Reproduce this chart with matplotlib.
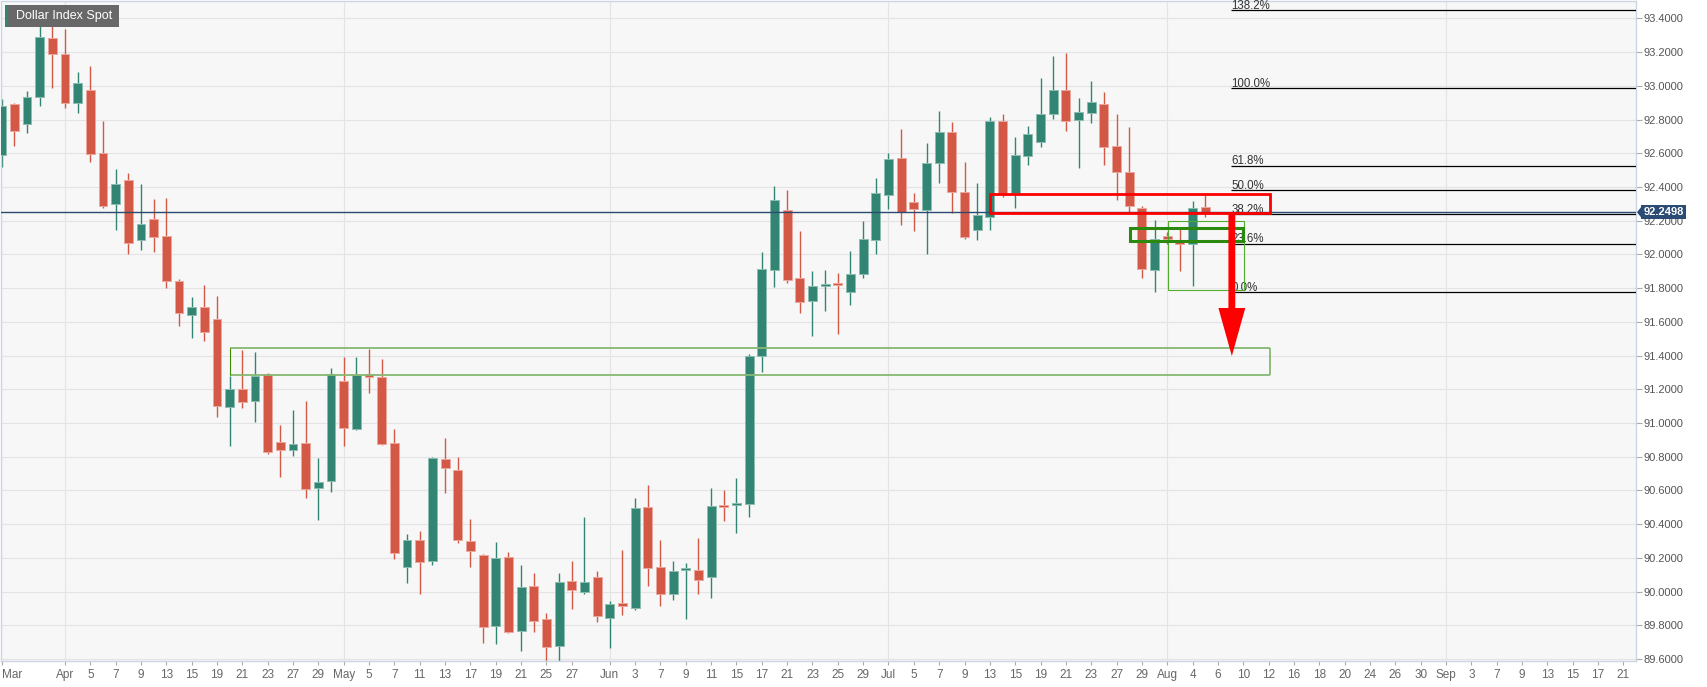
import numpy as np
import pandas as pd
import matplotlib
matplotlib.use("Agg")
import matplotlib.pyplot as plt
from matplotlib.patches import Rectangle, Polygon
from matplotlib.transforms import blended_transform_factory

plt.rcParams['font.family'] = ['Liberation Sans', 'DejaVu Sans']

# ---------------- data ----------------
start_date, end_date = "2021-03-25", "2021-09-21"

opens = [92.59, 92.89, 92.775, 92.935, 93.285, 93.188, 92.90, 92.975, 92.599, 92.297,
         92.441, 92.085, 92.212, 92.109, 91.842, 91.638, 91.69, 91.618, 91.095, 91.201,
         91.128, 91.29, 90.889, 90.837, 90.879, 90.612, 90.654, 91.249, 90.966, 91.29,
         91.27, 90.879, 90.147, 90.306, 90.183, 90.784, 90.72, 90.302, 90.215, 89.798,
         90.203, 89.764, 90.031, 89.839, 89.677, 90.063, 89.999, 90.086, 89.843, 89.932,
         89.904, 90.502, 90.146, 89.986, 90.125, 90.13, 90.088, 90.505, 90.512, 90.522,
         91.399, 91.905, 92.265, 91.858, 91.723, 91.81, 91.822, 91.778, 91.885, 92.085,
         92.351, 92.571, 92.31, 92.261, 92.54, 92.726, 92.37, 92.146, 92.223, 92.79,
         92.365, 92.583, 92.664, 92.834, 92.975, 92.798, 92.84, 92.893, 92.642, 92.488,
         92.277, 91.905, 92.111, 92.07, 92.059, 92.283]
highs = [92.92, 92.90, 92.969, 93.356, 93.44, 93.335, 93.081, 93.115, 92.791, 92.504,
         92.48, 92.415, 92.33, 92.336, 91.852, 91.745, 91.816, 91.751, 91.28, 91.433,
         91.419, 91.295, 90.986, 91.075, 91.128, 90.79, 91.324, 91.389, 91.393, 91.439,
         91.377, 90.964, 90.339, 90.359, 90.80, 90.909, 90.80, 90.428, 90.22, 90.292,
         90.233, 90.156, 90.108, 89.87, 90.108, 90.181, 90.44, 90.122, 89.944, 90.246,
         90.553, 90.632, 90.306, 90.181, 90.168, 90.316, 90.612, 90.60, 90.671, 91.41,
         92.012, 92.405, 92.38, 92.138, 91.899, 91.905, 91.892, 92.018, 92.198, 92.451,
         92.604, 92.743, 92.362, 92.658, 92.85, 92.788, 92.546, 92.421, 92.812, 92.83,
         92.698, 92.761, 93.044, 93.176, 93.192, 92.925, 93.028, 92.963, 92.832, 92.753,
         92.287, 92.204, 92.13, 92.157, 92.316, 92.352]
lows = [92.52, 92.645, 92.72, 92.882, 92.985, 92.87, 92.836, 92.546, 92.273, 92.144,
        92.0, 92.026, 92.012, 91.798, 91.577, 91.502, 91.484, 91.033, 90.861, 91.087,
        91.004, 90.814, 90.681, 90.806, 90.553, 90.422, 90.592, 90.865, 90.96, 91.176,
        90.87, 90.191, 90.049, 89.983, 90.155, 90.586, 90.286, 90.147, 89.693, 89.687,
        89.755, 89.649, 89.76, 89.58, 89.584, 89.894, 89.983, 89.817, 89.663, 89.859,
        89.89, 90.031, 89.917, 89.95, 89.835, 89.983, 89.96, 90.418, 90.345, 90.44,
        91.304, 91.808, 91.83, 91.65, 91.516, 91.664, 91.526, 91.70, 91.858, 92.0,
        92.267, 92.174, 92.136, 92.0, 92.421, 92.243, 92.089, 92.085, 92.144, 92.342,
        92.273, 92.533, 92.638, 92.802, 92.731, 92.51, 92.782, 92.533, 92.322, 92.253,
        91.858, 91.779, 92.06, 91.90, 91.814, 92.219]
closes = [92.88, 92.73, 92.933, 93.291, 93.188, 92.896, 93.014, 92.593, 92.289, 92.415,
          92.065, 92.18, 92.105, 91.842, 91.654, 91.686, 91.539, 91.098, 91.201, 91.124,
          91.28, 90.83, 90.837, 90.873, 90.608, 90.652, 91.29, 90.972, 91.286, 91.27,
          90.877, 90.231, 90.306, 90.175, 90.79, 90.731, 90.306, 90.24, 89.792, 90.199,
          89.76, 90.027, 89.827, 89.673, 90.057, 90.007, 90.057, 89.857, 89.928, 89.912,
          90.496, 90.138, 89.988, 90.122, 90.132, 90.066, 90.507, 90.50, 90.522, 91.399,
          91.913, 92.324, 91.85, 91.719, 91.81, 91.816, 91.816, 91.885, 92.091, 92.362,
          92.563, 92.251, 92.268, 92.54, 92.728, 92.372, 92.103, 92.233, 92.789, 92.358,
          92.589, 92.712, 92.83, 92.975, 92.789, 92.842, 92.902, 92.635, 92.49, 92.287,
          91.915, 92.089, 92.089, 92.063, 92.277, 92.2498]
last_price = 92.2498

tick_dates = ["2021-03-25", "2021-04-01", "2021-04-05", "2021-04-07", "2021-04-09", "2021-04-13",
              "2021-04-15", "2021-04-19", "2021-04-21", "2021-04-23", "2021-04-27", "2021-04-29",
              "2021-05-03", "2021-05-05", "2021-05-07", "2021-05-11", "2021-05-13", "2021-05-17",
              "2021-05-19", "2021-05-21", "2021-05-25", "2021-05-27", "2021-06-01", "2021-06-03",
              "2021-06-07", "2021-06-09", "2021-06-11", "2021-06-15", "2021-06-17", "2021-06-21",
              "2021-06-23", "2021-06-25", "2021-06-29", "2021-07-01", "2021-07-05", "2021-07-07",
              "2021-07-09", "2021-07-13", "2021-07-15", "2021-07-19", "2021-07-21", "2021-07-23",
              "2021-07-27", "2021-07-29", "2021-08-02", "2021-08-04", "2021-08-06", "2021-08-10",
              "2021-08-12", "2021-08-16", "2021-08-18", "2021-08-20", "2021-08-24", "2021-08-26",
              "2021-08-30", "2021-09-01", "2021-09-03", "2021-09-07", "2021-09-09", "2021-09-13",
              "2021-09-15", "2021-09-17", "2021-09-21"]
tick_labels = ["Mar", "Apr", "5", "7", "9", "13", "15", "19", "21", "23", "27", "29",
               "May", "5", "7", "11", "13", "17", "19", "21", "25", "27", "Jun", "3",
               "7", "9", "11", "15", "17", "21", "23", "25", "29", "Jul", "5", "7",
               "9", "13", "15", "19", "21", "23", "27", "29", "Aug", "4", "6", "10",
               "12", "16", "18", "20", "24", "26", "30", "Sep", "3", "7", "9", "13",
               "15", "17", "21"]
month_starts = ["2021-04-01", "2021-05-03", "2021-06-01", "2021-07-01", "2021-08-02", "2021-09-01"]
y_ticks = [89.6, 89.8, 90.0, 90.2, 90.4, 90.6, 90.8, 91.0, 91.2, 91.4,
           91.6, 91.8, 92.0, 92.2, 92.4, 92.6, 92.8, 93.0, 93.2, 93.4]

fib_low, fib_high = 91.775, 92.985
fib_ratios = [0.0, 0.236, 0.382, 0.5, 0.618, 1.0, 1.382]
fib_labels = ["0.0%", "23.6%", "38.2%", "50.0%", "61.8%", "100.0%", "138.2%"]
fib_start = "2021-08-09"

support_zone = ("2021-04-20", "2021-08-12", 91.284, 91.446)
red_box = ("2021-07-13", "2021-08-12", 92.247, 92.358)
green_box = ("2021-07-28", "2021-08-10", 92.079, 92.156)
thin_box = ("2021-08-02", "2021-08-10", 91.789, 92.196)
arrow_date = "2021-08-09"
arrow_top, arrow_head_base, arrow_tip = 92.247, 91.682, 91.397

# ---------------- figure ----------------
W, H = 1707, 687
fig = plt.figure(figsize=(W / 100, H / 100), dpi=100)
fig.patch.set_facecolor('white')
ax = fig.add_axes([1 / W, 26 / H, 1635 / W, 660 / H])
ax.set_facecolor('#f7f7f7')

dates = pd.bdate_range(start_date, end_date)
pos = {d.strftime("%Y-%m-%d"): i for i, d in enumerate(dates)}

ax.set_xlim(-0.05, 129.0)
ax.set_ylim(89.588, 93.503)

# grid
for yv in y_ticks:
    ax.axhline(yv, color='#e4e4e4', lw=0.8, zorder=0)
for m in month_starts:
    ax.axvline(pos[m], color='#e4e4e4', lw=0.8, zorder=0)

# candles
o = np.array(opens); h = np.array(highs); l = np.array(lows); c = np.array(closes)
x = np.arange(len(o))
up = c >= o
g_col, r_col = '#338573', '#d45846'
g_edge, r_edge = '#8dbcb0', '#eba79d'
cols = np.where(up, g_col, r_col)
edges = np.where(up, g_edge, r_edge)
ax.vlines(x, l, h, colors=cols, lw=1.0, zorder=2)
bottoms = np.minimum(o, c)
heights = np.maximum(np.abs(c - o), 0.012)
ax.bar(x, heights, bottom=bottoms, width=0.7, color=cols, edgecolor=edges, linewidth=0.7, zorder=3)

# current price line
ax.axhline(last_price, color='#2c4a70', lw=1.0, zorder=3)

# support zone
x0, x1 = pos[support_zone[0]], pos[support_zone[1]] + 0.1
ax.hlines([support_zone[2], support_zone[3]], x0, x1, color='#86b873', lw=1.3, zorder=4)
ax.vlines(x0, support_zone[2], support_zone[3], color='#3d8b00', lw=0.8, zorder=4)
ax.vlines(x1, support_zone[2], support_zone[3], color='#86b873', lw=1.3, zorder=4)

# fib lines
fx = pos[fib_start]
for r, lab in zip(fib_ratios, fib_labels):
    lv = fib_low + r * (fib_high - fib_low)
    ax.hlines(lv, fx, 129.0, color='black', lw=0.9, zorder=5)
    ax.annotate(lab, (fx, lv), xytext=(0.5, 1.3), textcoords='offset points',
                ha='left', va='baseline', fontsize=8.3, color='#333333', zorder=5)

# boxes
def box(spec, color, lw, x_off0=0.0, x_off1=0.0):
    a, b, lo, hi = spec
    xa, xb = pos[a] + x_off0, pos[b] + x_off1
    ax.add_patch(Rectangle((xa, lo), xb - xa, hi - lo, fill=False, ec=color, lw=lw, zorder=6))

box(thin_box, '#52ad2e', 0.8, 0.06, 0.05)
box(green_box, '#2b8a0e', 2.2, 0.1, 0.0)
box(red_box, '#ff0000', 2.0, 0.0, 0.1)

# red arrow
ac = pos[arrow_date] + 0.1
sw, hw = 0.27, 1.06
arrow = Polygon([(ac - sw, arrow_top), (ac + sw, arrow_top), (ac + sw, arrow_head_base),
                 (ac + hw, arrow_head_base), (ac, arrow_tip), (ac - hw, arrow_head_base),
                 (ac - sw, arrow_head_base)], closed=True, fc='#ff0000', ec='none', zorder=7)
ax.add_patch(arrow)

# axes styling
for s in ax.spines.values():
    s.set_color('#cdd4e4')
    s.set_linewidth(1.0)
ax.yaxis.tick_right()
ax.set_yticks(y_ticks)
ax.set_yticklabels([f"{v:.4f}" for v in y_ticks])
ax.tick_params(axis='y', length=4, width=0.8, color='#aaaaaa', labelsize=8, labelcolor='#555555', pad=1.5)
ax.set_xticks([pos[d] for d in tick_dates])
ax.set_xticklabels(tick_labels)
ax.tick_params(axis='x', length=3, width=0.8, color='#aaaaaa', labelsize=8.5, labelcolor='#666666', pad=3)
ax.get_xticklabels()[0].set_horizontalalignment('left')

# last price tag
tr = blended_transform_factory(ax.transAxes, ax.transData)
ax.text(1.0045, last_price, "92.2498", transform=tr, ha='left', va='center', color='white',
        fontsize=8, fontweight='bold', zorder=10, clip_on=False,
        bbox=dict(boxstyle='square,pad=0.2', fc='#2b4a74', ec='none'))
ax_right = 1 + 1 / 1635
ptr = Polygon([(ax_right, last_price), (ax_right + 4 / 1635, last_price + 0.03),
               (ax_right + 4 / 1635, last_price - 0.03)], closed=True, transform=tr,
              fc='#2b4a74', ec='none', clip_on=False, zorder=10)
ax.add_patch(ptr)

# title tag
fig.patches.append(Rectangle((5 / W, 1 - 27 / H), 114 / W, 22 / H, transform=fig.transFigure,
                             fc='#686868', ec='none', zorder=10))
fig.patches.append(Rectangle((5 / W, 1 - 27 / H), 3 / W, 22 / H, transform=fig.transFigure,
                             fc='#338573', ec='none', zorder=11))
fig.text(16.5 / W, 1 - 16.5 / H, "Dollar Index Spot", color='white', fontsize=9,
         ha='left', va='center', zorder=12)

fig.savefig("out.png", dpi=100)
